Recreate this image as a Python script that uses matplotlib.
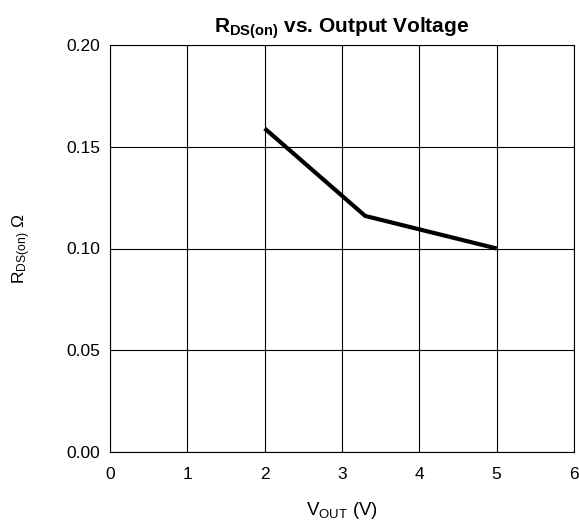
import matplotlib
matplotlib.use("Agg")
import matplotlib.pyplot as plt

plt.rcParams['font.family'] = ['Liberation Sans', 'DejaVu Sans']
plt.rcParams['mathtext.fontset'] = 'custom'
plt.rcParams['mathtext.rm'] = 'Liberation Sans'
plt.rcParams['mathtext.it'] = 'Liberation Sans:italic'
plt.rcParams['mathtext.bf'] = 'Liberation Sans:bold'

vout = [2.0, 3.3, 5.0]
rdson = [0.159, 0.116, 0.100]

x_ticks = [0, 1, 2, 3, 4, 5, 6]
y_ticks = [0.00, 0.05, 0.10, 0.15, 0.20]

fig = plt.figure(figsize=(5.79, 5.22), dpi=100)
ax = fig.add_axes([110 / 579, 1 - 452 / 522, 464 / 579, 407 / 522])

ax.plot(vout, rdson, color="black", linewidth=3.0, solid_capstyle="butt", zorder=3)

ax.set_xlim(0, 6)
ax.set_ylim(0, 0.20)
ax.set_xticks(x_ticks)
ax.set_yticks(y_ticks)
ax.set_yticklabels(["%.2f" % v for v in y_ticks])
ax.grid(True, color="black", linewidth=0.8)
ax.tick_params(axis="y", length=0, labelsize=12.5, pad=7)
ax.tick_params(axis="x", length=0, labelsize=12.5, pad=11)
for s in ax.spines.values():
    s.set_linewidth(0.8)

ax.set_title(r"$\mathbf{R}_{\mathbf{DS(on)}}$ vs. Output Voltage", fontsize=15,
             fontweight="bold", pad=9)
ax.set_xlabel(r"$\mathrm{V}_{\mathrm{OUT}}$ (V)", fontsize=13.5, labelpad=13)
ax.set_ylabel(r"$\mathrm{R}_{\mathrm{DS(on)}}$ Ω", fontsize=12.5, labelpad=24)

fig.savefig("out.png", dpi=100)
